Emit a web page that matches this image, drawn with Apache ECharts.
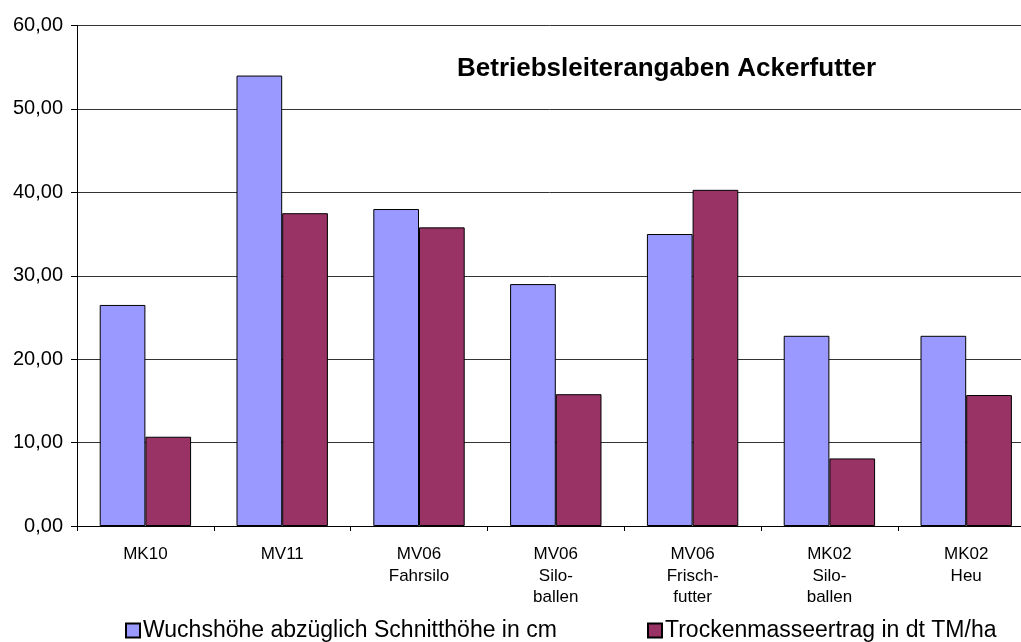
<!DOCTYPE html>
<html>
<head>
<meta charset="utf-8">
<script src="https://cdn.jsdelivr.net/npm/echarts@6/dist/echarts.min.js"></script>
<style>
  html, body { margin: 0; padding: 0; background: #fff; }
  #chart { width: 1021px; height: 642px; }
</style>
</head>
<body>
<div id="chart"></div>
<script>
// Kategorien (Betriebe)
var categories = ['MK10', 'MV11', 'MV06\nFahrsilo', 'MV06\nSilo-\nballen', 'MV06\nFrisch-\nfutter', 'MK02\nSilo-\nballen', 'MK02\nHeu']
// Wuchshöhe abzüglich Schnitthöhe in cm
var wuchshoehe = [26.5, 54.0, 38.0, 29.0, 35.0, 22.8, 22.8]
// Trockenmasseertrag in dt TM/ha
var tmErtrag = [10.7, 37.5, 35.8, 15.8, 40.3, 8.1, 15.7]
var seriesNames = ['Wuchshöhe abzüglich Schnitthöhe in cm', 'Trockenmasseertrag in dt TM/ha']
var yTicks = [0, 10, 20, 30, 40, 50, 60]

var font = 'Liberation Sans, Arial, sans-serif'
var myChart = echarts.init(document.getElementById('chart'))

var option = {
  backgroundColor: '#fff',
  animation: false,
  title: {
    text: 'Betriebsleiterangaben Ackerfutter',
    left: 452,
    top: 51,
    textStyle: {
      fontFamily: font,
      fontSize: 26,
      fontWeight: 'bold',
      color: '#000'
    }
  },
  grid: {
    left: 77,
    top: 25.5,
    width: 957.6,
    bottom: 116,
    containLabel: false,
    outerBoundsMode: 'none'
  },
  legend: [
    {
      data: [seriesNames[0]],
      left: 120,
      top: 614,
      icon: 'rect',
      itemWidth: 14,
      itemHeight: 14,
      itemGap: 4,
      textStyle: { fontFamily: font, fontSize: 23, color: '#000', padding: [0, 0, 0, -2] }
    },
    {
      data: [seriesNames[1]],
      left: 642,
      top: 614,
      icon: 'rect',
      itemWidth: 14,
      itemHeight: 14,
      itemGap: 4,
      textStyle: { fontFamily: font, fontSize: 23, color: '#000', padding: [0, 0, 0, -2] }
    }
  ],
  xAxis: {
    type: 'category',
    data: categories,
    axisLine: { show: true, lineStyle: { color: '#000', width: 1 } },
    axisTick: { show: true, alignWithLabel: false, length: 5, lineStyle: { color: '#000' } },
    axisLabel: {
      fontFamily: font,
      fontSize: 17,
      lineHeight: 21.5,
      color: '#000',
      margin: 18,
      interval: 0
    },
    splitLine: { show: false }
  },
  yAxis: {
    type: 'value',
    min: yTicks[0],
    max: yTicks[yTicks.length - 1],
    interval: 10,
    axisLine: { show: true, lineStyle: { color: '#000', width: 1 } },
    axisTick: { show: true, inside: false, length: 6, lineStyle: { color: '#000' } },
    axisLabel: {
      fontFamily: font,
      fontSize: 20,
      color: '#000',
      margin: 14,
      formatter: function (v) { return v.toFixed(2).replace('.', ',') }
    },
    splitLine: { show: true, lineStyle: { color: '#333', width: 1 } }
  },
  series: [
    {
      name: seriesNames[0],
      type: 'bar',
      data: wuchshoehe,
      barGap: '0%',
      barCategoryGap: '33.2%',
      itemStyle: { color: '#9999ff', borderColor: '#000', borderWidth: 1 }
    },
    {
      name: seriesNames[1],
      type: 'bar',
      data: tmErtrag,
      barGap: '0%',
      barCategoryGap: '33.2%',
      itemStyle: { color: '#993366', borderColor: '#000', borderWidth: 1 }
    }
  ]
}

myChart.setOption(option)
</script>
</body>
</html>
